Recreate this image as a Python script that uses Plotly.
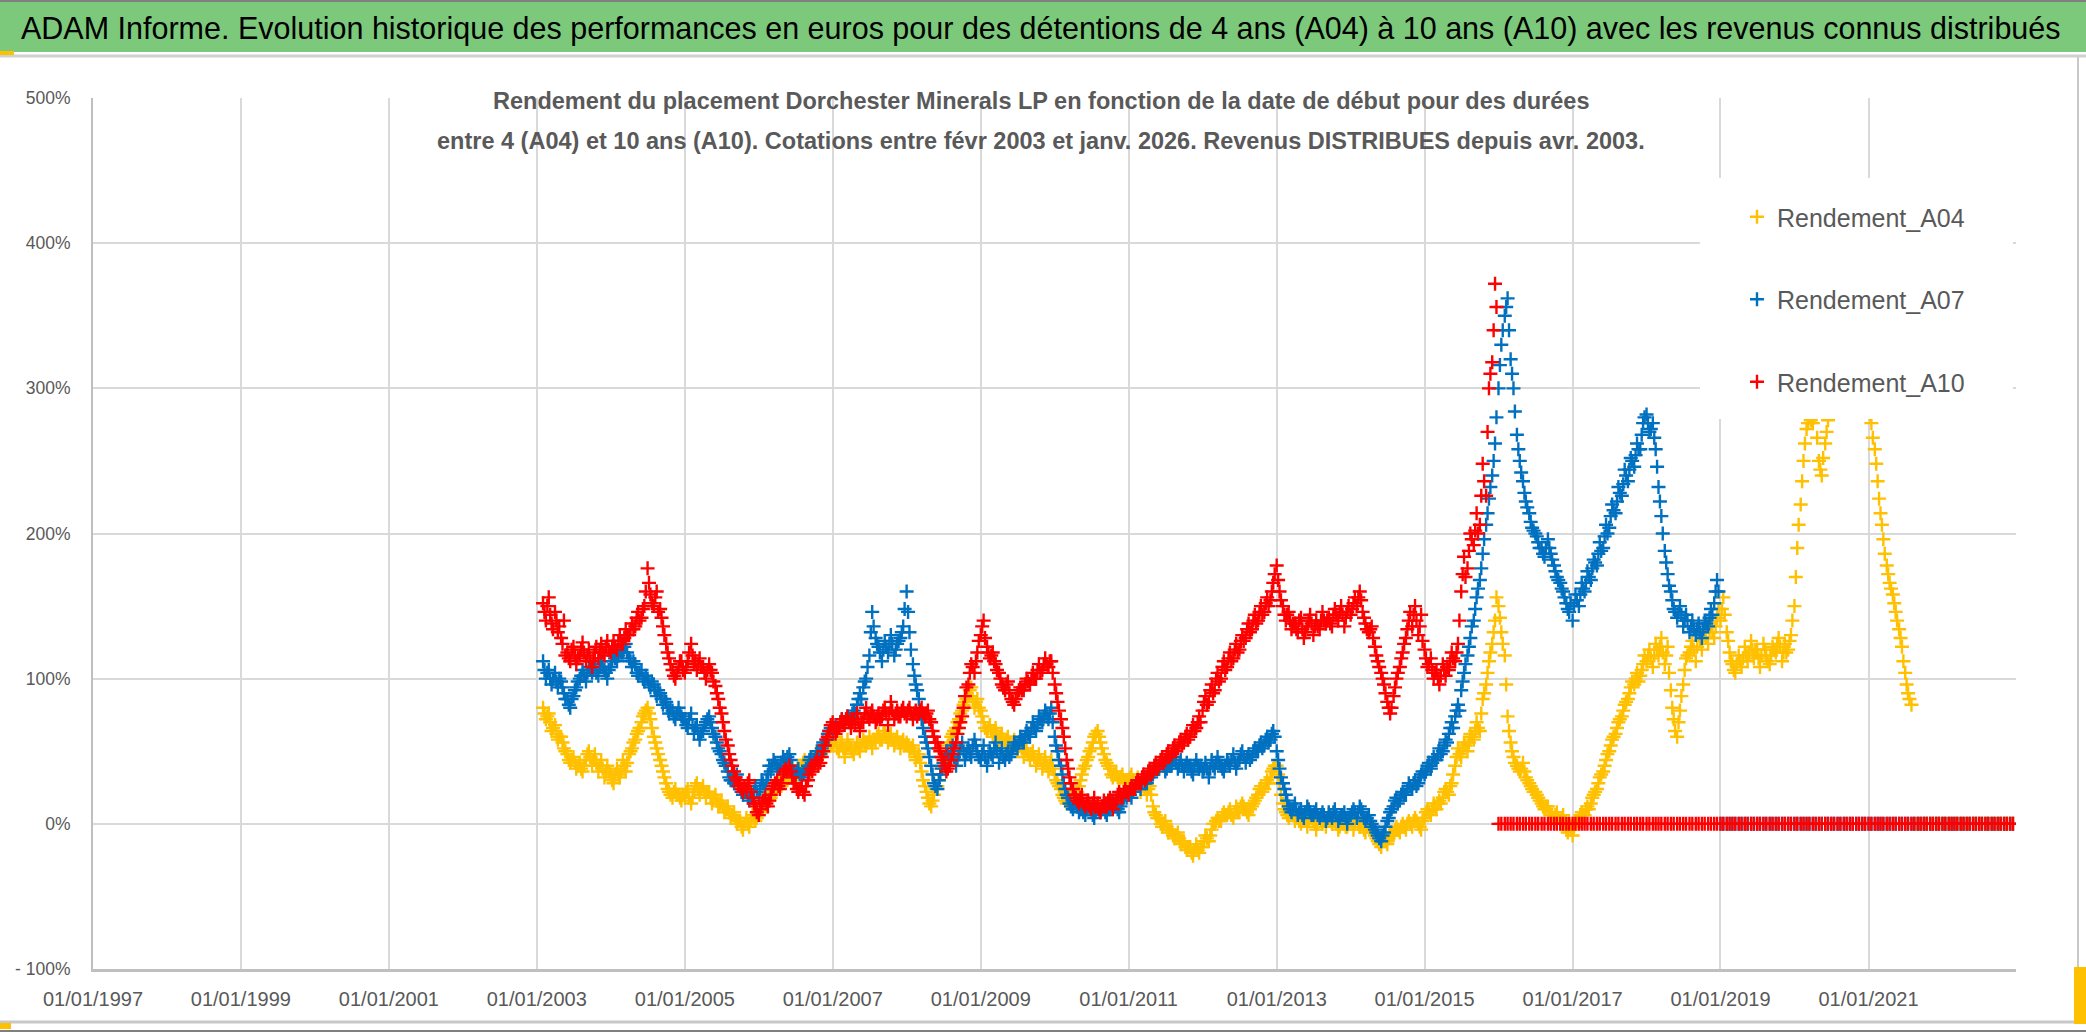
import plotly.graph_objects as go
import pandas as pd

# ---------------- axis / labels ----------------
x_tick_dates = ["1997-01-01", "1999-01-01", "2001-01-01", "2003-01-01", "2005-01-01",
                "2007-01-01", "2009-01-01", "2011-01-01", "2013-01-01", "2015-01-01",
                "2017-01-01", "2019-01-01", "2021-01-01"]
x_tick_labels = ["01/01/1997", "01/01/1999", "01/01/2001", "01/01/2003", "01/01/2005",
                 "01/01/2007", "01/01/2009", "01/01/2011", "01/01/2013", "01/01/2015",
                 "01/01/2017", "01/01/2019", "01/01/2021"]
y_tick_vals = [-100, 0, 100, 200, 300, 400, 500]
y_tick_labels = ["- 100%", "0%", "100%", "200%", "300%", "400%", "500%"]
x_range = ["1997-01-01", "2022-12-30"]
y_range = [-100, 500]

series_names = ["Rendement_A04", "Rendement_A07", "Rendement_A10"]
series_colors = ["#FFC000", "#0070C0", "#FF0000"]

# ---------------- data (%), readings on the 1st/15th (a) and the 8th/22nd (b) of each month ----------------
start_date = "2003-02-01"
offset_b_days = 7

A04_values = (
    [80,72,76,64,68,58,60,52,48,42,46,38,42,36,44,50,40,48,36,44,32,40]              # 2003
    + [34,28,38,32,44,36,48,52,58,64,70,76,80,72,60,52,44,36,28,22,18,24,20,16]     # 2004
    + [18,24,14,22,28,20,26,18,22,14,20,12,16,8,12,4,8,0,2,-4,4,-2,6,2]             # 2005
    + [6,10,14,20,18,26,24,30,28,34,32,38,30,36,40,44,38,46,42,50,48,54,52,58]      # 2006
    + [54,60,50,56,46,58,52,48,56,50,58,54,60,52,56,62,58,64,56,62,54,60,52,58]     # 2007
    + [56,50,54,44,48,36,26,18,12,20,26,34,42,50,56,62,66,72,78,84,88,94,80,86]     # 2008
    + [78,70,64,68,60,66,58,62,54,60,52,58,50,56,46,52,44,50,40,48,38,46,36,44]     # 2009
    + [34,28,24,18,14,20,12,18,26,34,40,46,52,60,64,56,48,42,38,32,36,30,34,28]     # 2010
    + [30,34,26,32,22,28,20,26,12,6,4,-2,2,-6,-4,-10,-6,-14,-12,-18,-16,-22,-14,-20]  # 2011
    + [-16,-8,-12,-4,0,4,2,8,6,10,4,12,8,14,10,6,12,16,20,26,24,30,32,38]           # 2012
    + [40,28,14,8,4,10,2,6,0,4,-2,6,2,-4,4,0,-2,6,0,4,-4,2,0,-2]                    # 2013
    + [2,-4,4,-2,0,-6,2,-4,-8,-12,-16,-10,-14,-6,-8,-2,-6,0,-4,2,-2,4,0,-4]         # 2014
    + [4,10,6,14,10,16,18,24,20,28,40,52,46,56,50,62,58,70,64,86,96,112,124,140]    # 2015
    + [150,132,116,74,56,46,40,36,42,32,28,24,22,18,14,10,12,6,4,8,2,6,-4,0]        # 2016
    + [-8,2,4,8,6,12,14,20,24,32,36,44,50,58,62,70,74,82,86,94,96,104,102,110]      # 2017
    + [112,120,108,124,116,128,110,122,92,72,60,78,96,114,118,126,112,130,120,134,124,138,128,142]  # 2018
    + [140,156,132,118,110,104,116,108,122,112,126,114,120,108,124,116,110,122,118,128,112,124,120,130]  # 2019
    + [150,190,220,250,272,280,276,284,250,240,262,278,290,300,310,305,300,308,312,300,296,305,300,292]  # 2020
    + [288,276,258,236,214,196,178,166,158,146,134,122,104,90,82]                                       # 2021
)
A04_values_b = (
    [76,74,70,66,62,60,56,50,44,44,42,40,38,40,48,46,44,42,40,38,36,36]
    + [30,34,34,36,40,42,50,56,62,66,74,78,76,66,56,48,40,32,24,20,22,20,18,20]
    + [22,18,18,26,24,24,22,22,18,18,16,14,12,10,8,6,4,2,-2,0,0,2,4,4]
    + [8,12,16,16,22,22,28,26,32,30,36,34,34,38,42,40,42,44,46,46,52,50,56,54]
    + [58,52,54,52,52,54,50,52,52,54,56,56,56,58,60,58,62,60,60,58,58,56,56,54]
    + [54,52,50,46,42,30,22,14,16,24,30,38,46,54,60,64,70,76,82,86,92,86,84,80]
    + [74,66,66,64,64,62,60,58,58,56,56,54,54,52,50,48,48,46,44,44,42,40,40,38]
    + [30,26,20,16,16,16,16,22,30,38,44,50,56,62,60,52,44,40,34,34,32,32,30,30]
    + [32,30,30,28,26,24,24,20,8,4,0,0,-2,-4,-8,-8,-10,-12,-16,-16,-20,-18,-18,-16]
    + [-12,-10,-8,0,2,2,6,6,8,6,8,8,12,12,8,10,14,18,24,22,28,28,36,40]
    + [34,20,10,6,8,6,4,2,2,2,2,4,0,0,2,2,2,2,2,0,-2,0,-2,0]
    + [0,0,0,0,-4,-2,-2,-6,-10,-14,-12,-12,-10,-8,-4,-4,-2,-2,0,0,2,2,-2,2]
    + [8,8,10,12,14,14,22,22,26,34,46,48,52,54,56,60,64,66,76,90,104,118,132,156]
    + [142,124,96,64,50,42,38,38,36,30,26,22,20,16,12,12,8,6,6,4,4,2,-6,-4]
    + [-2,2,6,6,10,10,18,22,28,34,40,48,54,60,66,72,78,84,90,98,100,98,106,116]
    + [116,114,116,120,122,118,116,104,80,64,70,88,106,116,122,120,122,126,128,128,132,132,136,148]
    + [148,144,126,112,106,110,112,114,116,118,120,120,114,116,120,112,116,120,124,122,118,118,126,140]
    + [170,206,236,262,276,278,280,266,244,252,270,284,296,306,308,302,304,310,306,298,300,302,296,290]
    + [282,266,248,224,206,186,172,162,152,140,128,112,96,86]
)

A07_values = (
    [112,100,106,96,104,94,98,90,86,80,88,94,100,106,98,108,104,110,102,112,106,100]   # 2003
    + [108,116,112,120,118,124,114,108,110,102,106,98,100,94,96,88,90,82,84,76,78,72,80,74]  # 2004
    + [72,66,76,62,68,58,64,70,74,66,60,52,48,42,36,30,28,34,24,20,22,16,18,26]       # 2005
    + [18,30,24,34,36,44,40,38,46,42,48,40,34,38,32,36,40,46,44,50,48,56,58,64]       # 2006
    + [62,68,66,72,70,74,72,78,82,90,94,100,116,146,128,122,112,126,118,130,116,124,128,136]  # 2007
    + [160,132,110,96,86,72,60,52,40,28,24,34,42,50,46,54,40,48,56,44,52,46,58,50]    # 2008
    + [44,54,40,50,46,56,42,52,44,50,48,56,52,60,56,64,60,70,64,74,70,78,72,80]       # 2009
    + [60,50,40,28,20,14,10,16,8,12,6,14,10,4,12,8,14,6,10,16,12,8,16,20]             # 2010
    + [22,18,26,30,24,32,28,36,34,40,38,44,36,42,40,46,38,44,36,42,40,34,44,38]       # 2011
    + [36,42,32,44,38,46,40,36,44,40,48,38,44,50,42,48,46,52,50,56,54,60,58,64]       # 2012
    + [50,38,28,20,12,8,14,6,10,4,12,8,6,10,4,8,2,8,4,10,2,6,8,0]                     # 2013
    + [6,10,4,12,8,2,6,0,-4,-8,-12,-6,2,8,12,18,16,22,20,28,24,30,28,34]              # 2014
    + [34,40,38,46,44,52,50,58,62,70,74,82,92,104,116,128,140,156,168,186,206,224,240,262]  # 2015
    + [300,330,350,362,320,300,268,250,236,222,214,204,200,194,190,184,196,186,178,170,166,160,152,146]  # 2016
    + [140,158,150,166,160,174,168,182,178,194,190,206,204,220,214,232,226,244,236,252,246,262,258,276]  # 2017
    + [282,270,276,258,232,212,188,172,160,148,142,150,136,144,132,140,130,138,128,140,136,148,152,168]  # 2018
)
A07_values_b = (
    [106,104,100,100,98,100,94,86,82,86,92,98,102,102,104,106,106,104,108,108,104,106]
    + [112,114,116,118,122,118,112,112,104,104,100,102,96,98,92,92,86,86,80,80,74,76,76,72]
    + [68,72,68,66,62,62,68,72,70,62,56,50,44,40,32,30,32,28,22,22,18,18,22,22]
    + [24,28,30,40,40,42,38,42,44,46,44,36,36,34,34,38,44,42,46,48,52,54,62,66]
    + [66,66,70,70,72,72,76,76,86,86,98,108,132,136,124,118,120,122,124,124,120,126,132,148]
    + [146,120,102,92,78,66,56,46,34,26,30,38,46,48,50,46,44,52,50,48,48,54,54,46]
    + [48,46,46,48,52,50,48,46,48,46,52,54,56,58,60,62,66,66,68,72,74,76,76,70]
    + [54,44,34,24,18,12,14,12,10,8,10,12,6,8,10,10,8,10,14,12,10,12,18,18]
    + [20,22,28,28,28,28,32,32,38,38,42,40,38,40,44,42,40,40,40,40,36,40,40,40]
    + [38,38,38,40,42,42,38,40,42,44,42,42,48,46,46,44,50,50,54,52,58,56,62,60]
    + [44,32,24,16,10,10,10,8,6,8,10,6,8,6,6,6,4,6,8,6,4,6,4,4]
    + [8,8,8,10,4,4,2,-2,-6,-10,-8,-2,4,10,16,14,20,20,24,26,28,26,32,36]
    + [36,42,42,44,48,48,54,56,66,66,78,78,98,110,122,136,148,162,176,196,214,232,250,280]
    + [316,340,356,340,310,284,258,242,228,218,208,202,198,190,186,190,190,182,174,168,162,156,148,152]
    + [150,154,158,162,166,170,176,180,186,188,198,200,212,216,222,228,234,240,244,250,254,258,268,280]
    + [276,272,266,246,222,200,180,164,154,146,146,144,140,140,136,134,134,132,134,138,142,144,160,160]
)

A10_values = (
    [152,140,156,138,146,132,128,140,118,112,122,110,116,125,112,120,108,118,114,124,116,126]  # 2003
    + [118,126,120,130,124,134,130,138,136,146,142,150,176,158,150,160,148,136,124,114,106,100,108,112]  # 2004
    + [104,112,124,110,106,114,108,100,110,104,95,86,76,64,54,44,36,30,28,22,24,30,18,12]   # 2005
    + [6,14,18,12,20,26,30,24,34,38,40,32,28,22,26,20,30,38,40,44,42,50,58,64]            # 2006
    + [70,62,66,72,68,74,66,72,76,64,70,80,72,78,70,76,74,80,68,84,72,78,74,80]           # 2007
    + [74,80,72,78,76,80,74,78,70,60,56,50,44,36,40,48,56,66,74,88,96,110,104,118]        # 2008
    + [130,140,122,114,118,110,104,96,92,98,86,82,90,94,92,100,96,104,100,110,106,114,108,112]  # 2009
    + [96,84,72,60,44,32,24,18,14,20,12,16,10,18,14,8,16,12,18,10,16,22,18,24]            # 2010
    + [20,26,24,30,28,34,32,38,36,42,40,46,44,50,48,54,52,58,56,62,60,68,66,74]           # 2011
    + [78,88,84,96,92,104,100,112,108,118,114,124,120,130,128,138,134,144,140,150,146,156,154,166]  # 2012
    + [178,160,150,140,146,134,138,132,142,128,136,144,130,140,134,146,138,142,136,148,140,150,136,146]  # 2013
    + [144,152,150,160,146,138,132,136,122,112,104,96,84,76,88,100,108,118,128,140,136,150,130,144]  # 2014
    + [120,108,114,100,106,96,110,102,106,118,112,124,160,184,176,200,192,214,206,248,226,300,318,372]  # 2015
)
A10_values_b = (
    [146,150,144,134,140,136,124,116,114,120,116,114,120,118,116,112,114,122,120,118,122,120]
    + [122,122,126,126,128,130,134,134,142,140,148,160,166,152,156,146,142,130,118,110,102,104,112,106]
    + [108,118,116,112,110,108,104,106,106,98,90,80,70,58,48,40,32,26,24,26,28,22,14,8]
    + [10,16,14,16,24,28,26,28,36,36,36,28,24,24,22,26,34,36,42,40,46,54,60,68]
    + [66,64,70,70,72,70,70,68,70,70,76,74,76,74,72,72,78,76,76,78,76,74,78,76]
    + [78,76,76,74,78,76,76,72,64,56,52,46,40,38,44,52,62,70,80,94,104,108,112,126]
    + [136,128,118,116,112,106,100,94,96,90,84,86,92,92,96,98,100,100,106,104,110,110,112,104]
    + [90,78,66,52,38,28,20,16,18,14,14,12,14,12,10,12,14,16,14,14,20,20,22,22]
    + [24,24,28,28,32,30,36,34,40,38,44,42,48,46,52,50,56,54,60,58,64,64,70,70]
    + [84,82,92,90,100,98,108,106,114,112,120,118,126,126,134,132,140,138,146,144,152,150,160,172]
    + [168,154,144,144,140,138,134,140,134,132,140,138,136,136,140,140,140,138,144,144,146,144,142,150]
    + [148,156,156,154,142,134,134,128,116,108,100,90,80,80,94,104,114,124,134,146,144,140,136,126]
    + [114,110,106,104,100,102,106,108,112,114,118,140,172,170,188,196,202,200,226,236,270,310,340,356]
)

# after the last computable start date the sheet shows 0 % up to the axis end
zero_level = 0
A04_zero_from = "2021-08-15"
A07_zero_from = "2019-01-01"
A10_zero_from = "2016-01-01"
zero_until = "2022-12-31"

# ---------------- build ----------------
W, H = 2086, 1032
ML, MR, MT, MB = 93, 70, 98, 63
PW, PH = W - ML - MR, H - MT - MB


def px(xp):
    return (xp - ML) / PW


def py(yp):
    return (H - MB - yp) / PH


FONT = "Liberation Sans, Arial, sans-serif"
GREY = "#595959"

fig = go.Figure()
for name, color, va, vb, zfrom in zip(
        series_names, series_colors,
        [A04_values, A07_values, A10_values],
        [A04_values_b, A07_values_b, A10_values_b],
        [A04_zero_from, A07_zero_from, A10_zero_from]):
    da = list(pd.date_range(start_date, periods=len(va), freq="SMS"))
    db = list(pd.date_range(start_date, periods=len(vb), freq="SMS") + pd.Timedelta(days=offset_b_days))
    dz = list(pd.date_range(zfrom, zero_until, freq="SMS"))
    xs, ys = [], []
    for i in range(max(len(da), len(db))):
        if i < len(da):
            xs.append(da[i]); ys.append(va[i])
        if i < len(db):
            xs.append(db[i]); ys.append(vb[i])
    xs += dz
    ys += [zero_level] * len(dz)
    fig.add_trace(go.Scatter(
        x=xs, y=ys, mode="markers", name=name, legendgroup=name,
        marker=dict(symbol="cross-thin", size=10, color=color,
                    line=dict(width=2.4, color=color)),
        hoverinfo="skip",
    ))

fig.update_layout(
    width=W, height=H,
    margin=dict(l=ML, r=MR, t=MT, b=MB),
    paper_bgcolor="white", plot_bgcolor="white",
    font=dict(family=FONT, color=GREY),
    showlegend=True,
    legend=dict(x=px(1737), y=py(194), xanchor="left", yanchor="top",
                bgcolor="rgba(0,0,0,0)", font=dict(size=25, color=GREY, family=FONT),
                tracegroupgap=47, itemsizing="trace"),
    xaxis=dict(type="date", range=x_range, tickmode="array",
               tickvals=x_tick_dates, ticktext=x_tick_labels,
               showgrid=True, gridcolor="#D9D9D9", gridwidth=2,
               showline=True, linecolor="#BFBFBF", linewidth=3,
               ticks="", ticklabelstandoff=10, zeroline=False,
               tickfont=dict(size=20, color=GREY, family=FONT)),
    yaxis=dict(range=y_range, tickmode="array", tickvals=y_tick_vals, ticktext=y_tick_labels,
               showgrid=True, gridcolor="#D9D9D9", gridwidth=2,
               showline=True, linecolor="#BFBFBF", linewidth=2,
               ticks="", ticklabelstandoff=17, zeroline=False,
               tickfont=dict(size=17.5, color=GREY, family=FONT)),
)

shapes = [
    # title band
    dict(type="rect", xref="paper", yref="paper", x0=px(0), x1=px(W), y0=py(52), y1=py(0),
         fillcolor="#7CC97C", line=dict(width=0), layer="above"),
    dict(type="line", xref="paper", yref="paper", x0=px(0), x1=px(W), y0=py(1), y1=py(1),
         line=dict(color="#7F7F7F", width=2), layer="above"),
    dict(type="line", xref="paper", yref="paper", x0=px(0), x1=px(W), y0=py(56), y1=py(56),
         line=dict(color="#D0D0D0", width=3), layer="above"),
    dict(type="rect", xref="paper", yref="paper", x0=px(0), x1=px(14), y0=py(55), y1=py(51),
         fillcolor="#FFC000", line=dict(width=0), layer="above"),
    # subtitle box hides gridlines
    dict(type="rect", xref="paper", yref="paper", x0=px(426), x1=px(1660), y0=py(162), y1=py(97),
         fillcolor="white", line=dict(width=0), layer="between"),
    # legend box hides gridlines and points
    dict(type="rect", xref="paper", yref="paper", x0=px(1700), x1=px(2013), y0=py(419), y1=py(178),
         fillcolor="white", line=dict(width=0), layer="above"),
    # outer frame
    dict(type="line", xref="paper", yref="paper", x0=px(2078), x1=px(2078), y0=py(1022), y1=py(57),
         line=dict(color="#C8C8C8", width=2), layer="above"),
    dict(type="line", xref="paper", yref="paper", x0=px(0), x1=px(2079), y0=py(1022), y1=py(1022),
         line=dict(color="#C8C8C8", width=3), layer="above"),
    dict(type="line", xref="paper", yref="paper", x0=px(0), x1=px(W), y0=py(1031), y1=py(1031),
         line=dict(color="#7F7F7F", width=2), layer="above"),
    dict(type="rect", xref="paper", yref="paper", x0=px(0), x1=px(11), y0=py(1029), y1=py(1023),
         fillcolor="#FFC000", line=dict(width=0), layer="above"),
    dict(type="rect", xref="paper", yref="paper", x0=px(2074), x1=px(W), y0=py(1024), y1=py(967),
         fillcolor="#FFC000", line=dict(width=0), layer="above"),
]
fig.update_layout(shapes=shapes)

title = ("ADAM Informe. Evolution historique des performances en euros pour des détentions "
         "de 4 ans (A04) à 10 ans (A10) avec les revenus connus distribués")
sub1 = "Rendement du placement Dorchester Minerals LP en fonction de la date de début pour des durées"
sub2 = ("entre 4 (A04) et 10 ans (A10). Cotations entre févr 2003 et janv. 2026. "
        "Revenus DISTRIBUES depuis avr. 2003.")

fig.add_annotation(text=title, xref="paper", yref="paper", x=px(1041), y=py(28),
                   xanchor="center", yanchor="middle", showarrow=False,
                   font=dict(size=30.5, color="#000000", family=FONT))
fig.add_annotation(text="<b>" + sub1 + "</b>", xref="paper", yref="paper", x=px(1041), y=py(101),
                   xanchor="center", yanchor="middle", showarrow=False,
                   font=dict(size=23.5, color=GREY, family=FONT))
fig.add_annotation(text="<b>" + sub2 + "</b>", xref="paper", yref="paper", x=px(1041), y=py(141),
                   xanchor="center", yanchor="middle", showarrow=False,
                   font=dict(size=23.5, color=GREY, family=FONT))

fig.write_html("out.html", config={"displayModeBar": False},
               post_script="document.body.style.margin='0';")
